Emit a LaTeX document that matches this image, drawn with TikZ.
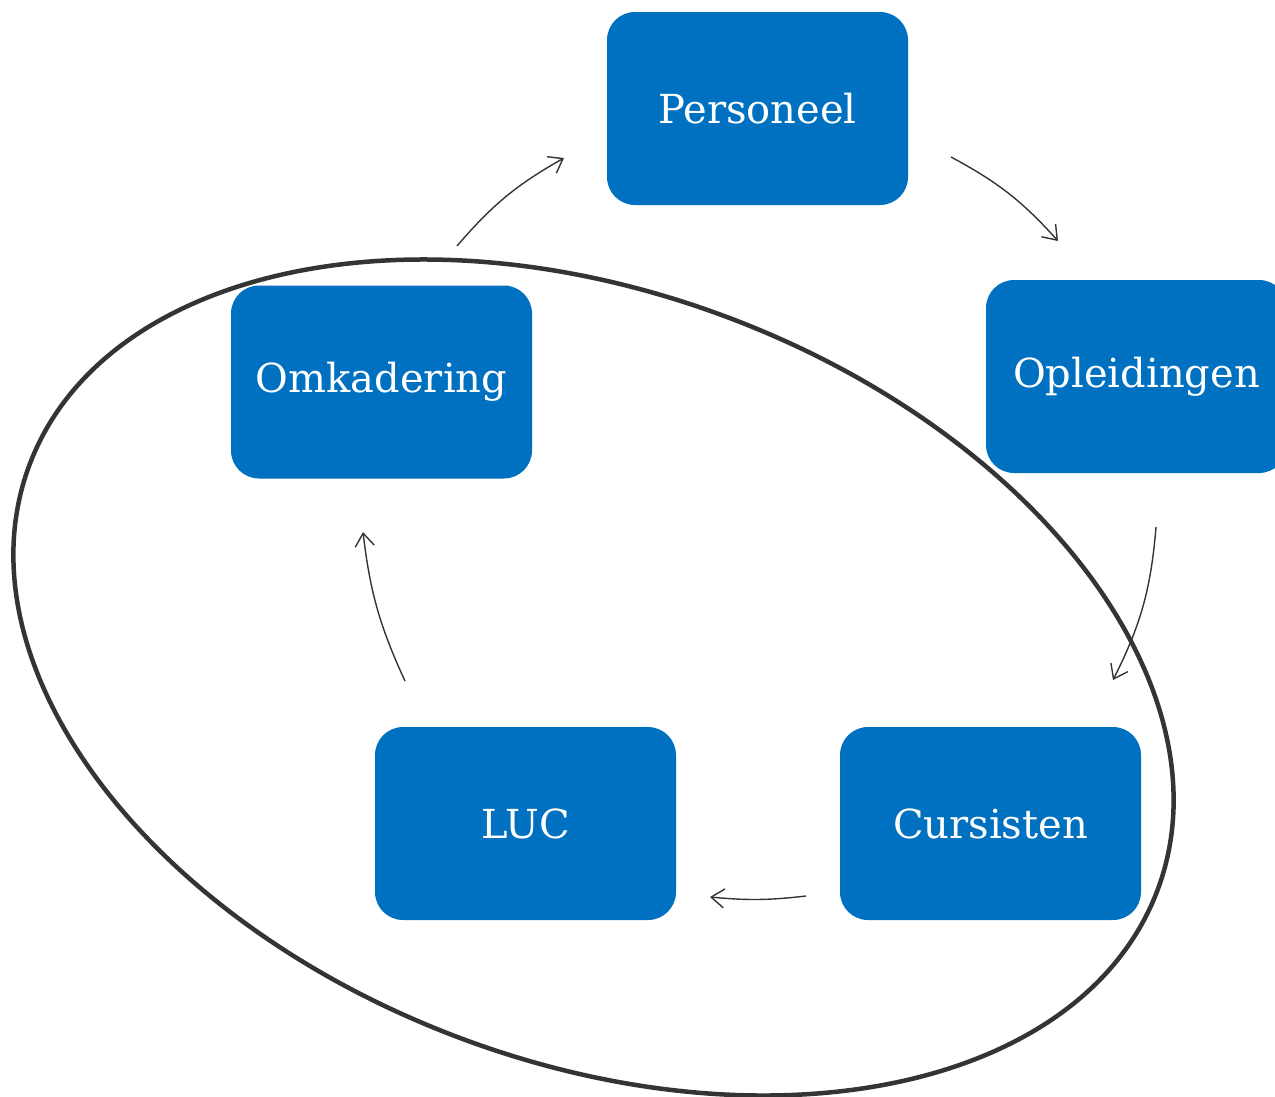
\documentclass[tikz,border=0pt]{standalone}
\usepackage{fontspec}
\setmainfont{DejaVu Serif}
\usetikzlibrary{arrows.meta}
\definecolor{boxblue}{RGB}{0,113,193}
\definecolor{inkgray}{RGB}{52,52,52}
\tikzset{
  stepbox/.style={fill=boxblue, draw=none, rounded corners=28pt, minimum width=301pt, minimum height=193pt, inner sep=0pt, text=white, font=\fontsize{40}{48}\selectfont},
  flowarrow/.style={draw=inkgray, line width=1.4pt, -{Straight Barb[length=13pt,width=19pt,line width=1.4pt]}},
  ring/.style={draw=inkgray, line width=4.5pt}
}
\begin{document}
\begin{tikzpicture}[x=1pt,y=-1pt]
\useasboundingbox (0,0) rectangle (1275,1096);
\draw[ring, rotate around={-20.7:(593.5,677.5)}] (593.5,677.5) ellipse [x radius=602.8pt, y radius=384.4pt];
\node[stepbox] (pers) at (757.5,108.5) {Personeel};
\node[stepbox] (opl) at (1136.5,376.5) {Opleidingen};
\node[stepbox] (omk) at (381.5,382) {Omkadering};
\node[stepbox] (luc) at (525.5,823.5) {LUC};
\node[stepbox] (curs) at (990.5,823.5) {Cursisten};
\coordinate (a1s) at (457,246); \coordinate (a1e) at (564,158);
\coordinate (a2s) at (951,157); \coordinate (a2e) at (1058,241);
\coordinate (a3s) at (1156,527); \coordinate (a3e) at (1113,680);
\coordinate (a4s) at (806,896); \coordinate (a4e) at (710,897);
\coordinate (a5s) at (405,681); \coordinate (a5e) at (363,532);
\draw[flowarrow] (a1s) to[bend left=10] (a1e);
\draw[flowarrow] (a2s) to[bend left=10] (a2e);
\draw[flowarrow] (a3s) to[bend left=11] (a3e);
\draw[flowarrow] (a4s) to[bend left=6] (a4e);
\draw[flowarrow] (a5s) to[bend left=9] (a5e);
\end{tikzpicture}
\end{document}
